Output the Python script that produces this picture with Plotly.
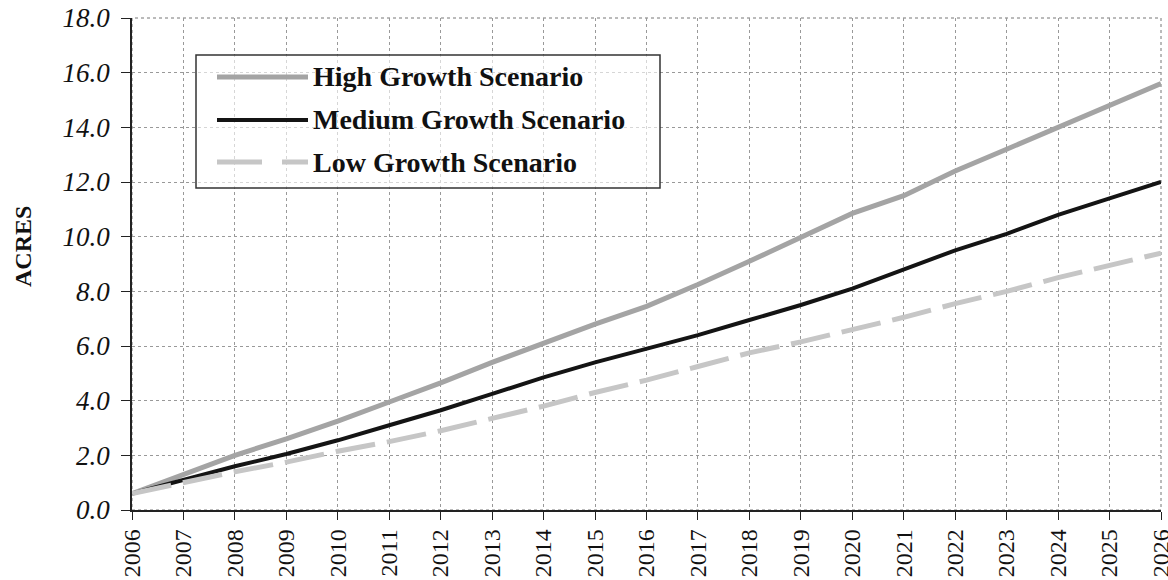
import plotly.graph_objects as go

# Projected acreage by growth scenario
years = list(range(2006, 2027))
high_growth = [0.6, 1.3, 2.0, 2.6, 3.25, 3.95, 4.65, 5.4, 6.1, 6.8, 7.45,
               8.25, 9.1, 9.95, 10.85, 11.5, 12.4, 13.2, 14.0, 14.8, 15.6]
medium_growth = [0.6, 1.1, 1.6, 2.05, 2.55, 3.1, 3.65, 4.25, 4.85, 5.4, 5.9,
                 6.4, 6.95, 7.5, 8.1, 8.8, 9.5, 10.1, 10.8, 11.4, 12.0]
low_growth = [0.6, 1.0, 1.4, 1.75, 2.15, 2.5, 2.9, 3.35, 3.8, 4.3, 4.75,
              5.25, 5.75, 6.15, 6.6, 7.05, 7.55, 8.0, 8.5, 8.95, 9.4]

y_ticks = [0, 2, 4, 6, 8, 10, 12, 14, 16, 18]
y_tick_labels = [f"{v:.1f}" for v in y_ticks]
series_names = ["High Growth Scenario", "Medium Growth Scenario", "Low Growth Scenario"]

SERIF = "Liberation Serif, Times New Roman, serif"
styles = [
    dict(color="#a4a4a4", width=5, dash="solid"),
    dict(color="#141414", width=4, dash="solid"),
    dict(color="#c6c6c6", width=5, dash="40px,12px"),
]

fig = go.Figure()
for name, vals, st in zip(series_names, [high_growth, medium_growth, low_growth], styles):
    fig.add_trace(go.Scatter(x=years, y=vals, mode="lines", name=name,
                             line=st, showlegend=False))

W, H = 1168, 580
ML, MR, MT, MB = 132, 7, 18, 70
pw, ph = W - ML - MR, H - MT - MB


def px_x(p):
    return (p - ML) / pw


def px_y(p):
    return (H - MB - p) / ph


shapes = [
    # dotted frame on top/right
    dict(type="rect", xref="paper", yref="paper", x0=0, x1=1, y0=0, y1=1,
         line=dict(color="#777", width=1, dash="dot"), layer="below"),
    # legend box
    dict(type="rect", xref="paper", yref="paper",
         x0=px_x(196), x1=px_x(660), y0=px_y(188), y1=px_y(55),
         line=dict(color="#333", width=1.5), fillcolor="rgba(255,255,255,0.6)"),
]
annotations = []
legend_rows = [77, 120, 162]
for name, st, row in zip(series_names, styles, legend_rows):
    shapes.append(dict(type="line", xref="paper", yref="paper",
                       x0=px_x(217), x1=px_x(308), y0=px_y(row), y1=px_y(row),
                       line=dict(color=st["color"], width=st["width"],
                                 dash="45px,20px" if st["dash"] != "solid" else "solid")))
    annotations.append(dict(xref="paper", yref="paper", x=px_x(311), y=px_y(row),
                            xanchor="left", yanchor="middle", showarrow=False,
                            text=f"<b>{name}</b>",
                            font=dict(family=SERIF, size=28, color="#111")))

# axis title
annotations.append(dict(xref="paper", yref="paper", x=px_x(23), y=px_y(247),
                        xanchor="center", yanchor="middle", showarrow=False,
                        textangle=-90, text="<b>ACRES</b>",
                        font=dict(family=SERIF, size=24, color="#111")))

# chart heading (sits mostly above the visible page)
annotations.append(dict(xref="paper", yref="paper", x=px_x(628), y=px_y(-1),
                        xanchor="center", yanchor="bottom", showarrow=False,
                        text="<b>LAND NEEDS SCENARIO</b>",
                        font=dict(family=SERIF, size=22, color="#444")))

fig.update_layout(
    width=W, height=H,
    margin=dict(l=ML, r=MR, t=MT, b=MB),
    paper_bgcolor="white", plot_bgcolor="white",
    shapes=shapes, annotations=annotations,
    font=dict(family=SERIF, color="#111"),
)
fig.update_xaxes(
    range=[2006, 2026], tickvals=years, ticktext=[str(y) for y in years],
    tickangle=-90, tickfont=dict(family=SERIF, size=24, color="#111"),
    ticklabeloverflow="allow", automargin=False,
    showgrid=True, gridcolor="#999", griddash="dot", gridwidth=1,
    showline=True, linecolor="#222", linewidth=1.5,
    ticks="outside", ticklen=8, tickcolor="#222", zeroline=False,
)
fig.update_yaxes(
    range=[0, 18], tickvals=y_ticks, ticktext=[f"<i>{t}</i>" for t in y_tick_labels],
    tickfont=dict(family=SERIF, size=27, color="#111"),
    ticklabelstandoff=6, automargin=False,
    showgrid=True, gridcolor="#999", griddash="dot", gridwidth=1,
    showline=True, linecolor="#222", linewidth=1.5,
    ticks="outside", ticklen=9, tickcolor="#222", zeroline=False,
)

fig.write_html("out.html")
